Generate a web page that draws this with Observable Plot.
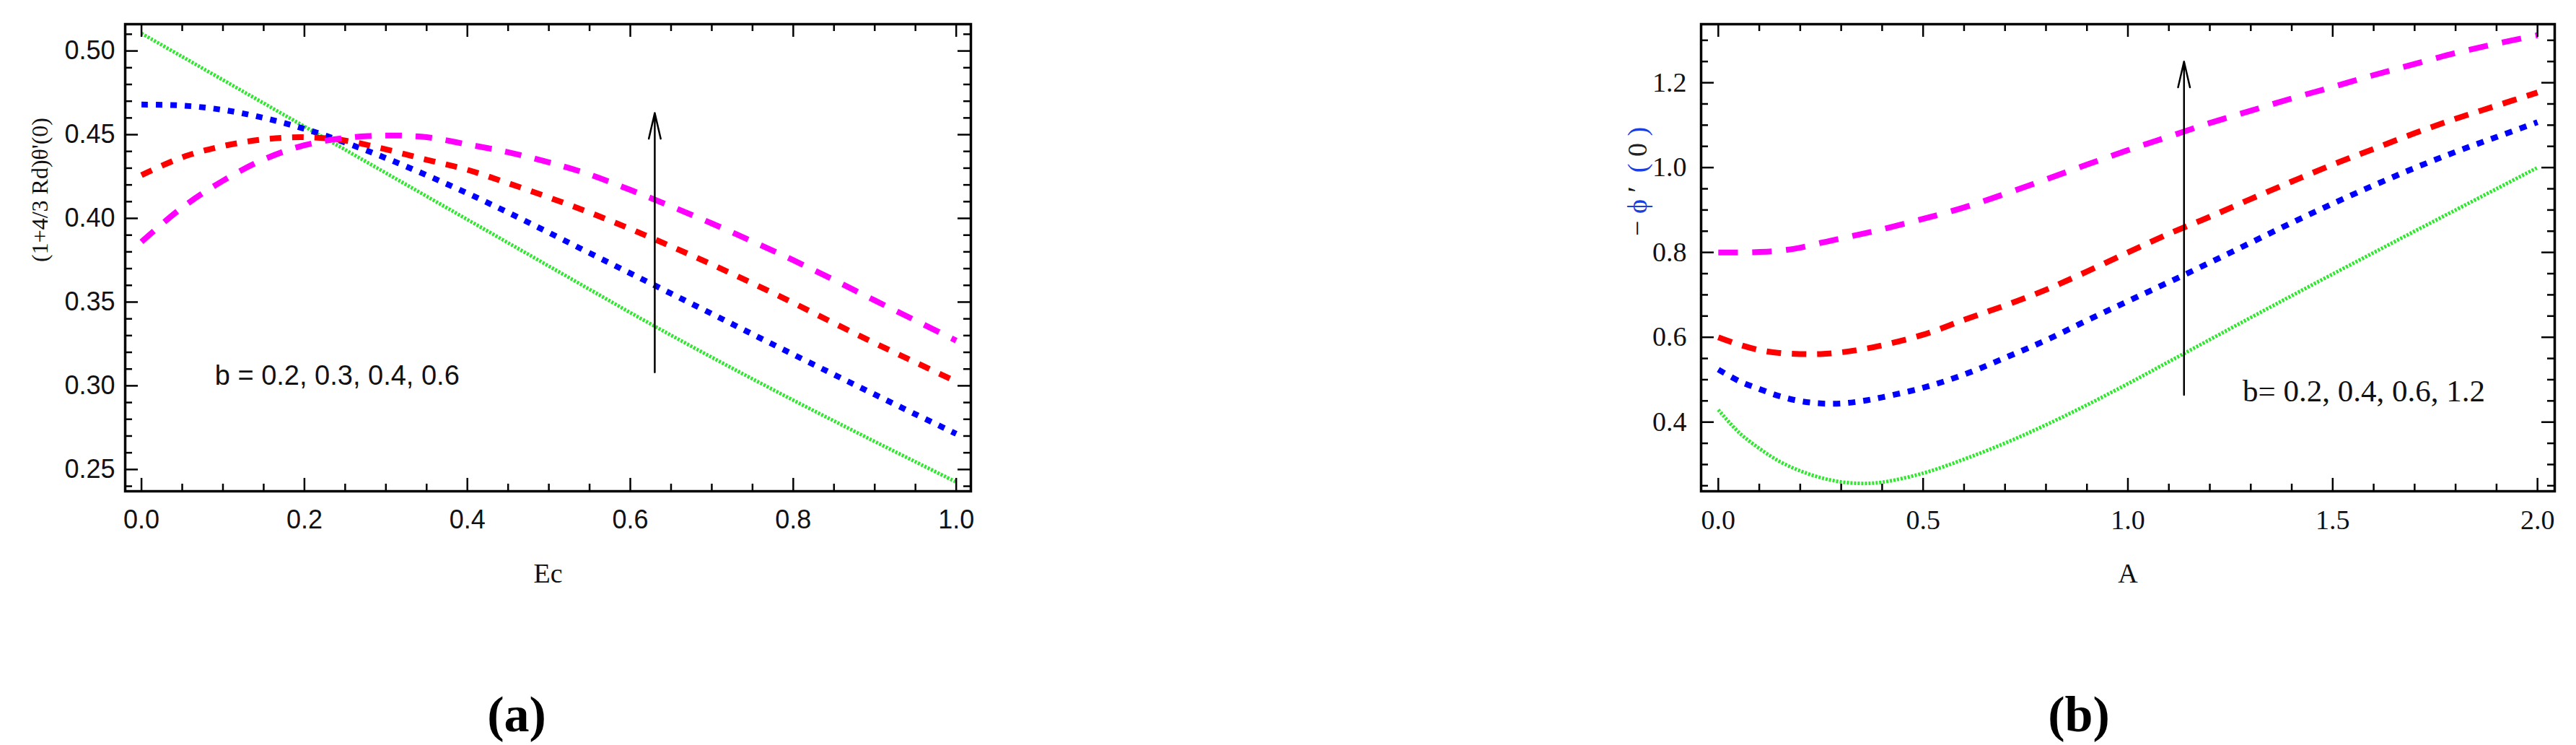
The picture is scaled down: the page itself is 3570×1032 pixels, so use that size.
<!DOCTYPE html>
<html>
<head>
<meta charset="utf-8">
<script src="https://cdn.jsdelivr.net/npm/d3@7"></script>
<script src="https://cdn.jsdelivr.net/npm/@observablehq/plot@0.6"></script>
<style>
html, body { margin: 0; padding: 0; background: #fff; }
#root { position: relative; width: 3570px; height: 1032px; overflow: hidden; background: #fff; }
.panel { position: absolute; top: 0; }
.cap { position: absolute; font-family: "Liberation Serif", serif; font-weight: bold; font-size: 70px; line-height: 1; transform: translate(-50%, -50%); color: #000; white-space: nowrap; }
</style>
</head>
<body>
<div id="root"></div>
<script>
// ---------------- data: panel (a) ----------------
const ecValues = [0, 0.05, 0.1, 0.15, 0.2, 0.25, 0.3, 0.35, 0.4, 0.45, 0.5, 0.55, 0.6, 0.65, 0.7, 0.75, 0.8, 0.85, 0.9, 0.95, 1.0];
const heatB02 = [0.5105, 0.4966, 0.4827, 0.4688, 0.4549, 0.4410, 0.4271, 0.4132, 0.3993, 0.3854, 0.3715, 0.3576, 0.3437, 0.3302, 0.3170, 0.3041, 0.2914, 0.2790, 0.2667, 0.2546, 0.2425];
const heatB03 = [0.4680, 0.4674, 0.4648, 0.4600, 0.4535, 0.4453, 0.4360, 0.4258, 0.4150, 0.4035, 0.3915, 0.3793, 0.3672, 0.3551, 0.3430, 0.3308, 0.3187, 0.3067, 0.2948, 0.2830, 0.2713];
const heatB04 = [0.4258, 0.4365, 0.4432, 0.4472, 0.4485, 0.4465, 0.4412, 0.4350, 0.4290, 0.4210, 0.4125, 0.4035, 0.3937, 0.3833, 0.3725, 0.3612, 0.3495, 0.3374, 0.3255, 0.3140, 0.3025];
const heatB06 = [0.3860, 0.4065, 0.4225, 0.4352, 0.4437, 0.4480, 0.4495, 0.4485, 0.4442, 0.4395, 0.4335, 0.4262, 0.4170, 0.4072, 0.3970, 0.3862, 0.3750, 0.3632, 0.3510, 0.3390, 0.3270];
const xTickLabelsA = [0, 0.2, 0.4, 0.6, 0.8, 1.0];
const yTickLabelsA = [0.25, 0.30, 0.35, 0.40, 0.45, 0.50];
const xLabelA = "Ec";
const yLabelA = "(1+4/3 Rd)θ'(0)";
const noteA = "b = 0.2, 0.3, 0.4, 0.6";
const noteAPos = {x: 0.09, y: 0.306};
const arrowA = {x: 0.63, y1: 0.308, y2: 0.463};
const captionA = "(a)";

// ---------------- data: panel (b) ----------------
const aValues = [0, 0.05, 0.1, 0.15, 0.2, 0.25, 0.3, 0.35, 0.4, 0.5, 0.6, 0.7, 0.8, 0.9, 1.0, 1.1, 1.2, 1.3, 1.4, 1.5, 1.6, 1.7, 1.8, 1.9, 2.0];
const massB02 = [0.429, 0.376, 0.338, 0.307, 0.285, 0.269, 0.259, 0.2555, 0.2583, 0.2795, 0.3125, 0.3505, 0.3935, 0.4405, 0.4905, 0.5425, 0.5945, 0.6465, 0.698, 0.749, 0.7995, 0.850, 0.900, 0.950, 1.000];
const massB04 = [0.524, 0.497, 0.478, 0.461, 0.4495, 0.444, 0.444, 0.4495, 0.4585, 0.481, 0.512, 0.5515, 0.593, 0.6395, 0.685, 0.730, 0.776, 0.823, 0.870, 0.915, 0.958, 0.999, 1.037, 1.072, 1.107];
const massB06 = [0.600, 0.583, 0.570, 0.563, 0.5605, 0.5605, 0.5645, 0.5715, 0.581, 0.606, 0.641, 0.675, 0.712, 0.755, 0.800, 0.844, 0.884, 0.926, 0.967, 1.007, 1.044, 1.081, 1.115, 1.146, 1.177];
const massB12 = [0.800, 0.800, 0.801, 0.804, 0.811, 0.8225, 0.833, 0.8435, 0.8545, 0.879, 0.906, 0.938, 0.972, 1.007, 1.041, 1.073, 1.105, 1.134, 1.163, 1.190, 1.218, 1.244, 1.270, 1.292, 1.312];
const xTickLabelsB = [0, 0.5, 1.0, 1.5, 2.0];
const yTickLabelsB = [0.4, 0.6, 0.8, 1.0, 1.2];
const xLabelB = "A";
const yLabelB = "− ϕ ′  ( 0 )";
const noteB = "b= 0.2, 0.4, 0.6, 1.2";
const noteBPos = {x: 1.28, y: 0.472};
const arrowB = {x: 1.137, y1: 0.464, y2: 1.25};
const captionB = "(b)";

// ---------------- styles ----------------
const lineStyles = {
  green:   {stroke: "#2ee82e", width: 5, dash: "3,2"},
  blue:    {stroke: "#0000ff", width: 8, dash: "9,11"},
  red:     {stroke: "#ff0000", width: 8, dash: "16,15"},
  magenta: {stroke: "#ff00ff", width: 8, dash: "23,19"}
};
const lineStylesB = {
  green:   {stroke: "#2ee82e", width: 5, dash: "3,2"},
  blue:    {stroke: "#0000ff", width: 8, dash: "10,11"},
  red:     {stroke: "#ff0000", width: 8, dash: "20,15"},
  magenta: {stroke: "#ff00ff", width: 8, dash: "27,20"}
};

const H = 1032, frameTop = 33, frameBottom = 680;

function buildPanel(cfg) {
  const fw = cfg.width - cfg.marginLeft - cfg.marginRight;
  const fh = frameBottom - frameTop;
  const majorLen = 18, minorLen = 10;
  const xMinor = cfg.xMinor.filter(v => !cfg.xMajor.some(m => Math.abs(m - v) < 1e-9));
  const yMinor = cfg.yMinor.filter(v => !cfg.yMajor.some(m => Math.abs(m - v) < 1e-9));
  const tickStyle = {stroke: "black", strokeWidth: 2.5};
  const marks = [];
  cfg.series.forEach(s => {
    const data = cfg.xs.map((x, i) => ({x, y: s.values[i]}));
    marks.push(Plot.line(data, {x: "x", y: "y", stroke: s.style.stroke, strokeWidth: s.style.width,
      strokeDasharray: s.style.dash, curve: "catmull-rom", strokeLinecap: "butt"}));
  });
  // inward ticks on all four sides
  marks.push(Plot.tickX(cfg.xMajor, {x: d => d, insetTop: fh - majorLen, ...tickStyle}));
  marks.push(Plot.tickX(cfg.xMajor, {x: d => d, insetBottom: fh - majorLen, ...tickStyle}));
  marks.push(Plot.tickX(xMinor, {x: d => d, insetTop: fh - minorLen, ...tickStyle}));
  marks.push(Plot.tickX(xMinor, {x: d => d, insetBottom: fh - minorLen, ...tickStyle}));
  marks.push(Plot.tickY(cfg.yMajor, {y: d => d, insetRight: fw - majorLen, ...tickStyle}));
  marks.push(Plot.tickY(cfg.yMajor, {y: d => d, insetLeft: fw - majorLen, ...tickStyle}));
  marks.push(Plot.tickY(yMinor, {y: d => d, insetRight: fw - minorLen, ...tickStyle}));
  marks.push(Plot.tickY(yMinor, {y: d => d, insetLeft: fw - minorLen, ...tickStyle}));
  marks.push(Plot.frame({stroke: "black", strokeWidth: 3.5}));
  // axes (labels only)
  marks.push(Plot.axisX(cfg.xMajor, {anchor: "bottom", tickSize: 0, tickPadding: 26, tickFormat: cfg.xFmt,
    label: null, fontSize: cfg.tickFontSize, fontFamily: cfg.tickFont, fill: "#111"}));
  marks.push(Plot.axisY(cfg.yLabels, {anchor: "left", tickSize: 0, tickPadding: cfg.yPad, tickFormat: cfg.yFmt,
    label: null, fontSize: cfg.tickFontSize, fontFamily: cfg.tickFont, fill: "#111"}));
  // arrow
  marks.push(Plot.arrow([cfg.arrow], {x1: "x", x2: "x", y1: "y1", y2: "y2", stroke: "black", strokeWidth: 2.5,
    headAngle: 26, headLength: 22}));
  // annotation
  marks.push(Plot.text([cfg.note], {x: () => cfg.notePos.x, y: () => cfg.notePos.y, text: d => d, textAnchor: "start",
    fontSize: cfg.noteFontSize, fontFamily: cfg.noteFont, fill: "#111"}));
  // axis titles
  marks.push(Plot.text([cfg.xLabel], {frameAnchor: "bottom", dy: 126, text: d => d, fontSize: 38,
    fontFamily: "Liberation Serif", fill: "#111"}));
  marks.push(Plot.text([cfg.yLabel], {frameAnchor: "left", dx: cfg.yLabelDx, dy: cfg.yLabelDy, rotate: -90, text: d => d,
    fontSize: cfg.yLabelSize, fontFamily: "Liberation Serif", fill: "#111"}));

  return Plot.plot({
    width: cfg.width, height: H,
    marginLeft: cfg.marginLeft, marginRight: cfg.marginRight,
    marginTop: frameTop, marginBottom: H - frameBottom,
    x: {domain: cfg.xDomain},
    y: {domain: cfg.yDomain},
    style: {background: "transparent", color: "#111", fontFamily: cfg.tickFont, fontSize: cfg.tickFontSize + "px", overflow: "visible"},
    marks
  });
}

const root = document.getElementById("root");

const panelA = buildPanel({
  width: 1400, marginLeft: 173, marginRight: 55,
  xDomain: [-0.02, 1.018], yDomain: [0.237, 0.516],
  xs: ecValues,
  series: [
    {values: heatB02, style: lineStyles.green},
    {values: heatB03, style: lineStyles.blue},
    {values: heatB04, style: lineStyles.red},
    {values: heatB06, style: lineStyles.magenta}
  ],
  xMajor: xTickLabelsA, xMinor: d3.range(0, 1.0001, 0.05).map(v => +v.toFixed(2)),
  yMajor: yTickLabelsA, yLabels: yTickLabelsA, yMinor: d3.range(0.24, 0.5101, 0.01).map(v => +v.toFixed(2)),
  xFmt: d3.format(".1f"), yFmt: d3.format(".2f"),
  tickFont: "Liberation Sans", tickFontSize: 36, yPad: 14,
  arrow: arrowA, note: noteA, notePos: noteAPos, noteFont: "Liberation Sans", noteFontSize: 38,
  xLabel: xLabelA, yLabel: yLabelA, yLabelDx: -118, yLabelDy: 6, yLabelSize: 32
});
panelA.classList.add("panel");
panelA.style.left = "0px";
root.appendChild(panelA);

const panelB = buildPanel({
  width: 1390, marginLeft: 177, marginRight: 30,
  xDomain: [-0.042, 2.042], yDomain: [0.237, 1.338],
  xs: aValues,
  series: [
    {values: massB02, style: lineStylesB.green},
    {values: massB04, style: lineStylesB.blue},
    {values: massB06, style: lineStylesB.red},
    {values: massB12, style: lineStylesB.magenta}
  ],
  xMajor: xTickLabelsB, xMinor: d3.range(0, 2.0001, 0.1).map(v => +v.toFixed(2)),
  yMajor: yTickLabelsB, yLabels: yTickLabelsB, yMinor: d3.range(0.25, 1.3001, 0.05).map(v => +v.toFixed(2)),
  xFmt: d3.format(".1f"), yFmt: d3.format(".1f"),
  tickFont: "Liberation Serif", tickFontSize: 38, yPad: 20,
  arrow: arrowB, note: noteB, notePos: noteBPos, noteFont: "Liberation Serif", noteFontSize: 43,
  xLabel: xLabelB, yLabel: yLabelB, yLabelDx: -88, yLabelDy: -30, yLabelSize: 38
});
panelB.classList.add("panel");
panelB.style.left = "2180px";
root.appendChild(panelB);

// colour the parts of the (b) y-axis title like the reference
d3.select(panelB).selectAll("text").filter(function () { return this.textContent === yLabelB; }).each(function () {
  const t = d3.select(this);
  t.text(null);
  [["− ", "#111"], ["ϕ", "#1a3ee0"], [" ′  ", "#111"], ["(", "#1a3ee0"], [" 0 ", "#222"], [")", "#1a3ee0"]]
    .forEach(([s, c]) => t.append("tspan").attr("fill", c).text(s));
});

// captions below the panels
[[captionA, 716], [captionB, 2881]].forEach(([txt, cx]) => {
  const d = document.createElement("div");
  d.className = "cap";
  d.textContent = txt;
  d.style.left = cx + "px";
  d.style.top = "990px";
  root.appendChild(d);
});
</script>
</body>
</html>
